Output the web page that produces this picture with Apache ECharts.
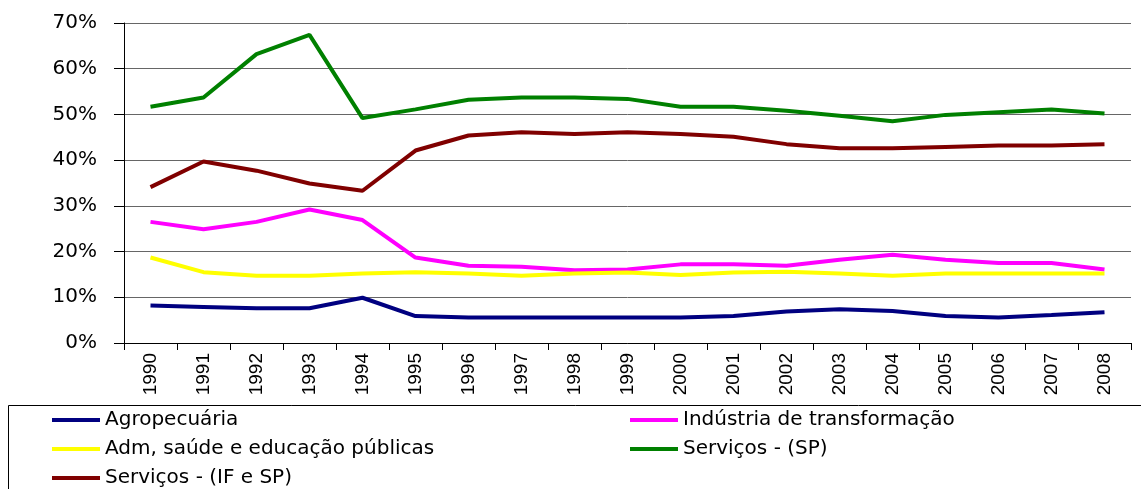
<!DOCTYPE html>
<html>
<head>
<meta charset="utf-8">
<script src="https://cdn.jsdelivr.net/npm/echarts@6/dist/echarts.min.js"></script>
<style>
  html, body { margin: 0; padding: 0; background: #fff; }
  #chart { width: 1141px; height: 489px; }
</style>
</head>
<body>
<div id="chart"></div>
<script>
const years = ['1990', '1991', '1992', '1993', '1994', '1995', '1996', '1997', '1998', '1999',
  '2000', '2001', '2002', '2003', '2004', '2005', '2006', '2007', '2008']

// shares in %
const agro = [8.2, 7.9, 7.6, 7.6, 9.9, 5.9, 5.6, 5.6, 5.6, 5.6, 5.6, 5.9, 6.9, 7.4, 7.0, 5.9, 5.6, 6.1, 6.7]
const industria = [26.5, 24.9, 26.5, 29.2, 26.9, 18.7, 16.9, 16.7, 15.9, 16.1, 17.2, 17.2, 16.9, 18.2, 19.3, 18.2, 17.5, 17.5, 16.1]
const admPublica = [18.7, 15.5, 14.7, 14.7, 15.2, 15.5, 15.2, 14.7, 15.2, 15.4, 14.9, 15.4, 15.6, 15.2, 14.7, 15.2, 15.2, 15.2, 15.2]
const servicosSP = [51.7, 53.7, 63.2, 67.4, 49.2, 51.1, 53.2, 53.7, 53.7, 53.4, 51.7, 51.7, 50.8, 49.7, 48.5, 49.9, 50.5, 51.1, 50.2]
const servicosIFSP = [34.1, 39.7, 37.7, 34.9, 33.3, 42.1, 45.4, 46.1, 45.7, 46.1, 45.7, 45.1, 43.5, 42.6, 42.6, 42.9, 43.2, 43.2, 43.5]

const names = ['Agropecuária', 'Indústria de transformação', 'Adm, saúde e educação públicas',
  'Serviços - (SP)', 'Serviços - (IF e SP)']
const colors = ['#000080', '#ff00ff', '#ffff00', '#008000', '#800000']
const values = [agro, industria, admPublica, servicosSP, servicosIFSP]

const chart = echarts.init(document.getElementById('chart'))

const legendBase = {
  orient: 'vertical',
  top: 410,
  padding: 0,
  icon: 'rect',
  itemWidth: 48,
  itemHeight: 4,
  itemGap: 9,
  textStyle: { fontFamily: 'DejaVu Sans', fontSize: 20, color: '#000', lineHeight: 20 }
}

chart.setOption({
  animation: false,
  color: colors,
  grid: { left: 124, right: 10, top: 23, bottom: 146 },
  legend: [
    { ...legendBase, left: 52, data: [names[0], names[2], names[4]] },
    { ...legendBase, left: 630, data: [names[1], names[3]] }
  ],
  graphic: [{
    type: 'rect',
    shape: { x: 8.5, y: 405.5, width: 1200, height: 120 },
    style: { fill: 'none', stroke: '#000', lineWidth: 1 },
    z: -1
  }],
  xAxis: {
    type: 'category',
    data: years,
    boundaryGap: true,
    axisLine: { lineStyle: { color: '#000', width: 1 } },
    axisTick: { show: true, length: 7, interval: 0, lineStyle: { color: '#000' } },
    axisLabel: {
      rotate: 90,
      interval: 0,
      margin: 10,
      fontFamily: 'Liberation Sans',
      fontSize: 19,
      color: '#000'
    }
  },
  yAxis: {
    type: 'value',
    min: 0,
    max: 70,
    interval: 10,
    axisLine: { show: true, lineStyle: { color: '#000', width: 1 } },
    axisTick: { show: true, length: 10, lineStyle: { color: '#000' } },
    axisLabel: {
      formatter: '{value}%',
      margin: 27,
      fontFamily: 'DejaVu Sans',
      fontSize: 20,
      color: '#000'
    },
    splitLine: { lineStyle: { color: '#666', width: 1 } }
  },
  series: names.map((name, i) => ({
    name,
    type: 'line',
    data: values[i],
    symbol: 'none',
    lineStyle: { width: 4, color: colors[i] },
    z: 2
  }))
})
</script>
</body>
</html>
